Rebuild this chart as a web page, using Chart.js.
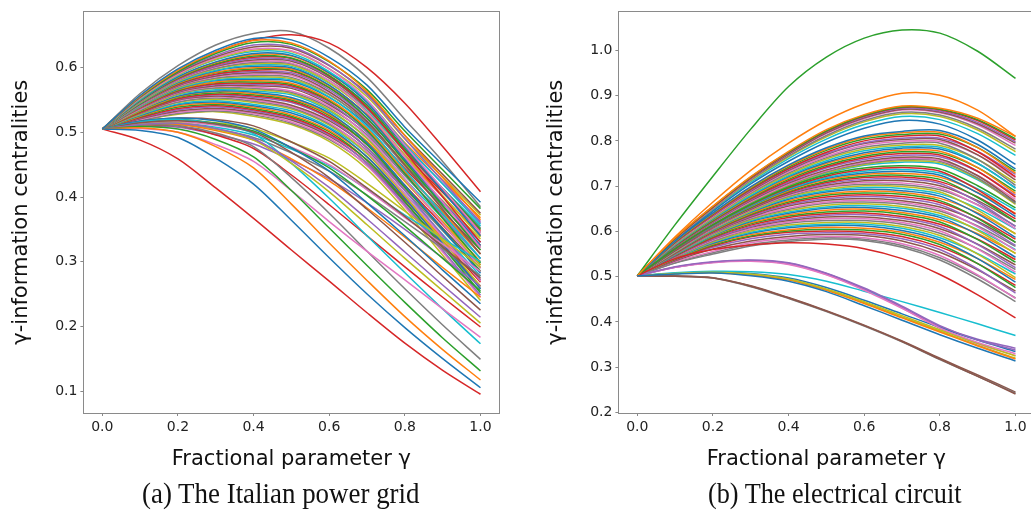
<!DOCTYPE html>
<html><head><meta charset="utf-8">
<script src="https://cdn.jsdelivr.net/npm/chart.js@4.4.1/dist/chart.umd.min.js"></script>
<style>
html,body{margin:0;padding:0;background:#fff;}
#wrap{position:relative;width:1031px;height:511px;overflow:hidden;background:#fff;}
.panel{position:absolute;top:0;width:515px;height:511px;}
.panel canvas{display:block;}
.cap{position:absolute;top:479px;font-family:"Liberation Serif","DejaVu Serif",serif;font-size:29px;line-height:29px;white-space:nowrap;color:#111;transform-origin:0 0;}
</style></head><body>
<div id="wrap">
  <div class="panel" style="left:0px"><canvas id="c1" width="515" height="511"></canvas></div>
  <div class="panel" style="left:535px"><canvas id="c2" width="515" height="511"></canvas></div>
  <div class="cap" style="left:142px;transform:scaleX(0.928)">(a) The Italian power grid</div>
  <div class="cap" style="left:708px;transform:scaleX(0.904)">(b) The electrical circuit</div>
</div>
<script>
// fractional parameter grid
const gamma = [0, 0.1, 0.2, 0.3, 0.4, 0.5, 0.6, 0.7, 0.8, 0.9, 1.0];
const xTickValues = [0, 0.2, 0.4, 0.6, 0.8, 1.0];
const italyYTicks = [0.1, 0.2, 0.3, 0.4, 0.5, 0.6];
const circuitYTicks = [0.2, 0.3, 0.4, 0.5, 0.6, 0.7, 0.8, 0.9, 1.0];
const xTitle = 'Fractional parameter γ';
const yTitle = 'γ-information centralities';

// (a) Italian power grid: one row per node, values at the gamma grid
const italySeries = [
  [0.505, 0.557, 0.598, 0.627, 0.645, 0.643, 0.616, 0.573, 0.508, 0.450, 0.392],
  [0.505, 0.556, 0.596, 0.624, 0.642, 0.638, 0.610, 0.563, 0.495, 0.430, 0.365],
  [0.505, 0.555, 0.594, 0.622, 0.639, 0.636, 0.609, 0.566, 0.502, 0.442, 0.382],
  [0.505, 0.555, 0.594, 0.624, 0.643, 0.651, 0.638, 0.600, 0.545, 0.478, 0.408],
  [0.505, 0.554, 0.593, 0.619, 0.635, 0.632, 0.604, 0.558, 0.490, 0.425, 0.360],
  [0.505, 0.554, 0.592, 0.617, 0.632, 0.630, 0.603, 0.560, 0.495, 0.435, 0.375],
  [0.505, 0.553, 0.590, 0.615, 0.629, 0.626, 0.598, 0.550, 0.480, 0.413, 0.345],
  [0.505, 0.560, 0.603, 0.635, 0.653, 0.656, 0.630, 0.585, 0.520, 0.455, 0.385],
  [0.505, 0.552, 0.589, 0.613, 0.627, 0.625, 0.598, 0.555, 0.490, 0.431, 0.372],
  [0.505, 0.551, 0.588, 0.612, 0.625, 0.622, 0.594, 0.549, 0.482, 0.420, 0.358],
  [0.505, 0.503, 0.492, 0.460, 0.420, 0.364, 0.306, 0.250, 0.198, 0.150, 0.105],
  [0.505, 0.507, 0.500, 0.478, 0.445, 0.389, 0.329, 0.271, 0.215, 0.164, 0.117],
  [0.505, 0.509, 0.505, 0.489, 0.462, 0.410, 0.352, 0.294, 0.237, 0.182, 0.131],
  [0.505, 0.488, 0.459, 0.414, 0.367, 0.318, 0.270, 0.221, 0.174, 0.132, 0.095],
  [0.505, 0.512, 0.514, 0.506, 0.490, 0.456, 0.415, 0.366, 0.315, 0.264, 0.214],
  [0.505, 0.515, 0.518, 0.513, 0.500, 0.469, 0.430, 0.381, 0.330, 0.277, 0.225],
  [0.505, 0.506, 0.500, 0.481, 0.455, 0.410, 0.362, 0.316, 0.272, 0.227, 0.183],
  [0.505, 0.511, 0.510, 0.499, 0.478, 0.430, 0.375, 0.316, 0.258, 0.202, 0.149],
  [0.505, 0.513, 0.515, 0.505, 0.488, 0.452, 0.408, 0.357, 0.305, 0.255, 0.205],
  [0.505, 0.516, 0.520, 0.513, 0.498, 0.452, 0.398, 0.340, 0.283, 0.227, 0.173],
  [0.505, 0.517, 0.522, 0.518, 0.505, 0.476, 0.440, 0.391, 0.340, 0.287, 0.235],
  [0.505, 0.511, 0.512, 0.503, 0.488, 0.459, 0.425, 0.383, 0.338, 0.291, 0.245],
  [0.505, 0.516, 0.520, 0.514, 0.502, 0.476, 0.445, 0.402, 0.355, 0.305, 0.255],
  [0.505, 0.510, 0.510, 0.496, 0.475, 0.434, 0.388, 0.340, 0.292, 0.245, 0.199],
  [0.505, 0.509, 0.508, 0.497, 0.482, 0.457, 0.428, 0.391, 0.350, 0.306, 0.262],
  [0.505, 0.517, 0.522, 0.520, 0.510, 0.485, 0.455, 0.414, 0.370, 0.323, 0.275],
  [0.505, 0.513, 0.516, 0.511, 0.500, 0.477, 0.450, 0.411, 0.368, 0.327, 0.285],
  [0.505, 0.511, 0.512, 0.505, 0.492, 0.468, 0.440, 0.403, 0.362, 0.320, 0.278],
  [0.505, 0.515, 0.518, 0.515, 0.506, 0.485, 0.460, 0.421, 0.378, 0.335, 0.292],
  [0.505, 0.512, 0.514, 0.508, 0.496, 0.474, 0.448, 0.412, 0.372, 0.336, 0.300],
  [0.505, 0.550, 0.586, 0.609, 0.622, 0.619, 0.592, 0.546, 0.478, 0.409, 0.340],
  [0.505, 0.550, 0.585, 0.608, 0.620, 0.618, 0.591, 0.548, 0.484, 0.426, 0.368],
  [0.505, 0.549, 0.584, 0.606, 0.618, 0.615, 0.588, 0.542, 0.475, 0.413, 0.350],
  [0.505, 0.549, 0.583, 0.605, 0.616, 0.614, 0.587, 0.539, 0.470, 0.400, 0.330],
  [0.505, 0.548, 0.582, 0.603, 0.614, 0.612, 0.586, 0.543, 0.480, 0.421, 0.362],
  [0.505, 0.548, 0.582, 0.602, 0.612, 0.610, 0.584, 0.538, 0.472, 0.409, 0.345],
  [0.505, 0.548, 0.581, 0.601, 0.610, 0.607, 0.580, 0.531, 0.462, 0.392, 0.322],
  [0.505, 0.547, 0.580, 0.599, 0.608, 0.606, 0.580, 0.536, 0.472, 0.412, 0.352],
  [0.505, 0.546, 0.579, 0.598, 0.606, 0.604, 0.577, 0.531, 0.465, 0.402, 0.338],
  [0.505, 0.546, 0.578, 0.596, 0.604, 0.602, 0.576, 0.533, 0.470, 0.413, 0.355],
  [0.505, 0.545, 0.577, 0.595, 0.602, 0.600, 0.573, 0.526, 0.458, 0.392, 0.325],
  [0.505, 0.545, 0.576, 0.593, 0.600, 0.598, 0.572, 0.527, 0.462, 0.401, 0.340],
  [0.505, 0.544, 0.575, 0.592, 0.598, 0.596, 0.569, 0.522, 0.455, 0.387, 0.318],
  [0.505, 0.544, 0.574, 0.590, 0.596, 0.595, 0.569, 0.527, 0.465, 0.407, 0.348],
  [0.505, 0.543, 0.573, 0.589, 0.594, 0.592, 0.566, 0.521, 0.456, 0.393, 0.330],
  [0.505, 0.543, 0.572, 0.587, 0.592, 0.590, 0.563, 0.517, 0.450, 0.381, 0.312],
  [0.505, 0.542, 0.571, 0.586, 0.590, 0.588, 0.562, 0.520, 0.458, 0.400, 0.342],
  [0.505, 0.541, 0.570, 0.584, 0.588, 0.585, 0.559, 0.514, 0.448, 0.385, 0.322],
  [0.505, 0.541, 0.569, 0.583, 0.586, 0.583, 0.558, 0.515, 0.452, 0.394, 0.335],
  [0.505, 0.540, 0.568, 0.581, 0.584, 0.581, 0.555, 0.509, 0.442, 0.374, 0.305],
  [0.505, 0.540, 0.567, 0.580, 0.582, 0.579, 0.554, 0.512, 0.450, 0.390, 0.330],
  [0.505, 0.539, 0.566, 0.578, 0.580, 0.576, 0.551, 0.506, 0.440, 0.376, 0.312],
  [0.505, 0.539, 0.565, 0.577, 0.578, 0.574, 0.549, 0.503, 0.436, 0.367, 0.298],
  [0.505, 0.538, 0.564, 0.575, 0.576, 0.572, 0.548, 0.506, 0.444, 0.385, 0.325],
  [0.505, 0.537, 0.563, 0.574, 0.574, 0.570, 0.545, 0.500, 0.435, 0.370, 0.305],
  [0.505, 0.537, 0.562, 0.572, 0.572, 0.568, 0.543, 0.501, 0.438, 0.378, 0.318],
  [0.505, 0.536, 0.561, 0.571, 0.570, 0.564, 0.540, 0.494, 0.428, 0.359, 0.290],
  [0.505, 0.536, 0.560, 0.569, 0.568, 0.562, 0.538, 0.496, 0.433, 0.373, 0.312],
  [0.505, 0.535, 0.559, 0.568, 0.566, 0.560, 0.535, 0.490, 0.425, 0.360, 0.295],
  [0.505, 0.535, 0.558, 0.566, 0.564, 0.558, 0.533, 0.491, 0.428, 0.367, 0.305],
  [0.505, 0.534, 0.556, 0.564, 0.562, 0.554, 0.530, 0.484, 0.418, 0.350, 0.282],
  [0.505, 0.533, 0.555, 0.563, 0.560, 0.552, 0.528, 0.486, 0.424, 0.362, 0.300],
  [0.505, 0.532, 0.554, 0.561, 0.558, 0.550, 0.526, 0.481, 0.415, 0.350, 0.285],
  [0.505, 0.531, 0.552, 0.559, 0.556, 0.548, 0.523, 0.481, 0.418, 0.357, 0.295],
  [0.505, 0.531, 0.551, 0.558, 0.554, 0.546, 0.521, 0.476, 0.410, 0.341, 0.272],
  [0.505, 0.530, 0.550, 0.556, 0.552, 0.542, 0.518, 0.476, 0.414, 0.352, 0.290],
  [0.505, 0.530, 0.549, 0.555, 0.550, 0.540, 0.515, 0.470, 0.405, 0.338, 0.270],
  [0.505, 0.529, 0.547, 0.553, 0.548, 0.538, 0.513, 0.472, 0.410, 0.348, 0.285],
  [0.505, 0.528, 0.546, 0.551, 0.546, 0.536, 0.511, 0.467, 0.402, 0.332, 0.262],
  [0.505, 0.527, 0.544, 0.549, 0.543, 0.533, 0.508, 0.467, 0.405, 0.342, 0.278],
  [0.505, 0.526, 0.543, 0.547, 0.541, 0.530, 0.506, 0.462, 0.398, 0.328, 0.258],
  [0.505, 0.525, 0.541, 0.545, 0.539, 0.527, 0.503, 0.462, 0.400, 0.336, 0.272],
  [0.505, 0.524, 0.539, 0.543, 0.537, 0.525, 0.501, 0.457, 0.393, 0.323, 0.252],
  [0.505, 0.523, 0.537, 0.541, 0.535, 0.523, 0.498, 0.457, 0.396, 0.332, 0.268],
  [0.505, 0.522, 0.535, 0.539, 0.533, 0.521, 0.496, 0.452, 0.388, 0.318, 0.248],
  [0.505, 0.521, 0.533, 0.537, 0.531, 0.519, 0.494, 0.453, 0.392, 0.327, 0.262],
  [0.505, 0.520, 0.531, 0.535, 0.529, 0.516, 0.491, 0.448, 0.385, 0.315, 0.245],
  [0.505, 0.518, 0.529, 0.533, 0.527, 0.514, 0.489, 0.449, 0.388, 0.323, 0.258],
  [0.505, 0.518, 0.528, 0.532, 0.525, 0.512, 0.486, 0.443, 0.380, 0.310, 0.240]
];

// (b) electrical circuit
const circuitSeries = [
  [0.502, 0.506, 0.508, 0.502, 0.490, 0.467, 0.436, 0.404, 0.372, 0.342, 0.314],
  [0.502, 0.588, 0.665, 0.735, 0.795, 0.845, 0.882, 0.905, 0.901, 0.868, 0.810],
  [0.502, 0.615, 0.722, 0.826, 0.920, 0.985, 1.027, 1.045, 1.038, 0.998, 0.938],
  [0.502, 0.540, 0.560, 0.570, 0.575, 0.572, 0.562, 0.540, 0.505, 0.460, 0.409],
  [0.502, 0.522, 0.533, 0.537, 0.531, 0.508, 0.475, 0.435, 0.392, 0.360, 0.338],
  [0.502, 0.501, 0.497, 0.479, 0.453, 0.424, 0.392, 0.357, 0.318, 0.280, 0.241],
  [0.502, 0.521, 0.531, 0.534, 0.527, 0.504, 0.470, 0.430, 0.387, 0.355, 0.330],
  [0.502, 0.501, 0.497, 0.478, 0.452, 0.423, 0.391, 0.356, 0.317, 0.280, 0.243],
  [0.502, 0.507, 0.510, 0.506, 0.495, 0.473, 0.445, 0.414, 0.383, 0.353, 0.325],
  [0.502, 0.509, 0.512, 0.511, 0.505, 0.490, 0.468, 0.445, 0.421, 0.396, 0.370],
  [0.502, 0.507, 0.511, 0.507, 0.497, 0.476, 0.448, 0.418, 0.388, 0.360, 0.335],
  [0.502, 0.507, 0.509, 0.504, 0.493, 0.470, 0.441, 0.409, 0.378, 0.347, 0.318],
  [0.502, 0.562, 0.615, 0.660, 0.698, 0.725, 0.740, 0.745, 0.738, 0.701, 0.652],
  [0.502, 0.561, 0.614, 0.659, 0.696, 0.722, 0.736, 0.741, 0.733, 0.692, 0.638],
  [0.502, 0.521, 0.532, 0.536, 0.530, 0.507, 0.473, 0.433, 0.390, 0.362, 0.342],
  [0.502, 0.502, 0.498, 0.480, 0.454, 0.425, 0.393, 0.358, 0.320, 0.283, 0.245],
  [0.502, 0.521, 0.532, 0.535, 0.528, 0.505, 0.472, 0.431, 0.386, 0.352, 0.326],
  [0.502, 0.530, 0.550, 0.568, 0.578, 0.583, 0.580, 0.565, 0.537, 0.495, 0.445],
  [0.502, 0.507, 0.510, 0.505, 0.494, 0.471, 0.443, 0.411, 0.380, 0.349, 0.320],
  [0.502, 0.561, 0.613, 0.657, 0.694, 0.719, 0.733, 0.737, 0.729, 0.694, 0.647],
  [0.502, 0.579, 0.645, 0.705, 0.755, 0.797, 0.828, 0.845, 0.837, 0.802, 0.748],
  [0.502, 0.586, 0.656, 0.721, 0.777, 0.825, 0.858, 0.877, 0.872, 0.850, 0.810],
  [0.502, 0.585, 0.655, 0.720, 0.775, 0.822, 0.856, 0.875, 0.870, 0.847, 0.805],
  [0.502, 0.584, 0.654, 0.719, 0.774, 0.821, 0.855, 0.874, 0.869, 0.845, 0.802],
  [0.502, 0.585, 0.655, 0.719, 0.773, 0.820, 0.853, 0.872, 0.866, 0.841, 0.798],
  [0.502, 0.584, 0.653, 0.717, 0.771, 0.818, 0.851, 0.870, 0.864, 0.838, 0.795],
  [0.502, 0.583, 0.652, 0.716, 0.770, 0.816, 0.849, 0.868, 0.862, 0.835, 0.790],
  [0.502, 0.582, 0.651, 0.714, 0.767, 0.812, 0.845, 0.863, 0.857, 0.828, 0.782],
  [0.502, 0.581, 0.650, 0.712, 0.765, 0.809, 0.842, 0.860, 0.854, 0.824, 0.776],
  [0.502, 0.580, 0.648, 0.709, 0.761, 0.804, 0.836, 0.854, 0.847, 0.816, 0.768],
  [0.502, 0.579, 0.641, 0.699, 0.747, 0.785, 0.811, 0.821, 0.823, 0.792, 0.738],
  [0.502, 0.578, 0.640, 0.697, 0.745, 0.782, 0.808, 0.818, 0.819, 0.785, 0.729],
  [0.502, 0.577, 0.639, 0.695, 0.742, 0.779, 0.804, 0.814, 0.815, 0.785, 0.733],
  [0.502, 0.576, 0.637, 0.693, 0.739, 0.775, 0.800, 0.810, 0.811, 0.776, 0.721],
  [0.502, 0.575, 0.636, 0.691, 0.737, 0.772, 0.796, 0.806, 0.806, 0.777, 0.726],
  [0.502, 0.575, 0.635, 0.689, 0.735, 0.770, 0.794, 0.803, 0.803, 0.769, 0.714],
  [0.502, 0.574, 0.633, 0.687, 0.732, 0.766, 0.790, 0.799, 0.799, 0.769, 0.719],
  [0.502, 0.573, 0.632, 0.685, 0.729, 0.763, 0.786, 0.795, 0.795, 0.759, 0.702],
  [0.502, 0.572, 0.630, 0.683, 0.726, 0.760, 0.782, 0.791, 0.790, 0.759, 0.708],
  [0.502, 0.571, 0.629, 0.680, 0.723, 0.756, 0.778, 0.787, 0.786, 0.751, 0.695],
  [0.502, 0.570, 0.627, 0.678, 0.721, 0.753, 0.774, 0.784, 0.782, 0.750, 0.697],
  [0.502, 0.570, 0.626, 0.676, 0.718, 0.750, 0.770, 0.780, 0.777, 0.741, 0.684],
  [0.502, 0.569, 0.624, 0.674, 0.715, 0.746, 0.766, 0.776, 0.773, 0.741, 0.689],
  [0.502, 0.568, 0.623, 0.672, 0.712, 0.743, 0.763, 0.772, 0.769, 0.733, 0.676],
  [0.502, 0.567, 0.621, 0.670, 0.709, 0.740, 0.759, 0.768, 0.765, 0.732, 0.680],
  [0.502, 0.566, 0.620, 0.668, 0.707, 0.736, 0.755, 0.764, 0.760, 0.723, 0.666],
  [0.502, 0.565, 0.619, 0.666, 0.704, 0.734, 0.752, 0.761, 0.757, 0.724, 0.671],
  [0.502, 0.565, 0.618, 0.665, 0.703, 0.732, 0.750, 0.759, 0.755, 0.718, 0.662],
  [0.502, 0.564, 0.617, 0.664, 0.701, 0.730, 0.748, 0.756, 0.752, 0.716, 0.660],
  [0.502, 0.564, 0.616, 0.663, 0.700, 0.728, 0.746, 0.753, 0.749, 0.714, 0.664],
  [0.502, 0.560, 0.612, 0.656, 0.692, 0.717, 0.729, 0.733, 0.724, 0.685, 0.633],
  [0.502, 0.560, 0.611, 0.655, 0.690, 0.714, 0.726, 0.728, 0.720, 0.686, 0.640],
  [0.502, 0.559, 0.611, 0.653, 0.688, 0.711, 0.722, 0.724, 0.715, 0.675, 0.622],
  [0.502, 0.558, 0.610, 0.652, 0.686, 0.708, 0.719, 0.720, 0.710, 0.676, 0.628],
  [0.502, 0.558, 0.609, 0.651, 0.684, 0.705, 0.715, 0.716, 0.706, 0.665, 0.611],
  [0.502, 0.557, 0.608, 0.649, 0.682, 0.702, 0.712, 0.712, 0.701, 0.668, 0.621],
  [0.502, 0.556, 0.607, 0.648, 0.680, 0.699, 0.708, 0.707, 0.696, 0.658, 0.606],
  [0.502, 0.556, 0.606, 0.647, 0.678, 0.697, 0.704, 0.703, 0.692, 0.659, 0.612],
  [0.502, 0.555, 0.605, 0.645, 0.676, 0.693, 0.701, 0.699, 0.687, 0.647, 0.594],
  [0.502, 0.555, 0.604, 0.644, 0.674, 0.690, 0.697, 0.695, 0.683, 0.651, 0.605],
  [0.502, 0.554, 0.603, 0.642, 0.671, 0.687, 0.693, 0.690, 0.678, 0.639, 0.587],
  [0.502, 0.554, 0.602, 0.640, 0.668, 0.683, 0.689, 0.686, 0.673, 0.641, 0.595],
  [0.502, 0.553, 0.601, 0.638, 0.665, 0.680, 0.685, 0.682, 0.668, 0.629, 0.576],
  [0.502, 0.552, 0.599, 0.636, 0.662, 0.676, 0.681, 0.677, 0.664, 0.630, 0.583],
  [0.502, 0.552, 0.598, 0.634, 0.659, 0.672, 0.677, 0.673, 0.659, 0.620, 0.569],
  [0.502, 0.551, 0.597, 0.632, 0.656, 0.669, 0.673, 0.668, 0.654, 0.622, 0.576],
  [0.502, 0.551, 0.596, 0.630, 0.652, 0.665, 0.669, 0.664, 0.649, 0.610, 0.558],
  [0.502, 0.550, 0.595, 0.628, 0.649, 0.662, 0.665, 0.660, 0.645, 0.612, 0.567],
  [0.502, 0.550, 0.593, 0.626, 0.646, 0.658, 0.661, 0.655, 0.640, 0.602, 0.551],
  [0.502, 0.549, 0.592, 0.624, 0.643, 0.654, 0.657, 0.651, 0.635, 0.604, 0.560],
  [0.502, 0.548, 0.591, 0.622, 0.640, 0.651, 0.653, 0.646, 0.631, 0.593, 0.543],
  [0.502, 0.548, 0.590, 0.619, 0.637, 0.647, 0.649, 0.642, 0.626, 0.595, 0.552],
  [0.502, 0.547, 0.588, 0.617, 0.634, 0.643, 0.645, 0.638, 0.621, 0.582, 0.532],
  [0.502, 0.546, 0.586, 0.614, 0.631, 0.639, 0.641, 0.633, 0.616, 0.583, 0.538],
  [0.502, 0.545, 0.584, 0.611, 0.627, 0.636, 0.637, 0.629, 0.611, 0.571, 0.520],
  [0.502, 0.545, 0.583, 0.609, 0.624, 0.632, 0.632, 0.624, 0.606, 0.572, 0.526],
  [0.502, 0.544, 0.581, 0.606, 0.621, 0.628, 0.628, 0.620, 0.601, 0.561, 0.510],
  [0.502, 0.543, 0.579, 0.604, 0.618, 0.624, 0.624, 0.616, 0.596, 0.562, 0.516],
  [0.502, 0.542, 0.577, 0.601, 0.614, 0.620, 0.620, 0.611, 0.591, 0.550, 0.498],
  [0.502, 0.541, 0.576, 0.598, 0.611, 0.616, 0.616, 0.607, 0.586, 0.551, 0.506],
  [0.502, 0.541, 0.574, 0.596, 0.608, 0.613, 0.612, 0.602, 0.581, 0.540, 0.488],
  [0.502, 0.540, 0.572, 0.593, 0.604, 0.609, 0.607, 0.598, 0.576, 0.540, 0.494],
  [0.502, 0.539, 0.570, 0.590, 0.601, 0.605, 0.603, 0.594, 0.571, 0.529, 0.476],
  [0.502, 0.538, 0.568, 0.588, 0.598, 0.601, 0.599, 0.589, 0.566, 0.529, 0.481],
  [0.502, 0.537, 0.565, 0.584, 0.594, 0.597, 0.595, 0.584, 0.560, 0.517, 0.464],
  [0.502, 0.535, 0.561, 0.579, 0.589, 0.593, 0.591, 0.579, 0.554, 0.515, 0.468],
  [0.502, 0.533, 0.556, 0.575, 0.585, 0.589, 0.586, 0.573, 0.547, 0.504, 0.452],
  [0.502, 0.531, 0.553, 0.571, 0.581, 0.586, 0.583, 0.569, 0.542, 0.502, 0.453]
];

const tab10 = ['#1f77b4','#ff7f0e','#2ca02c','#d62728','#9467bd','#8c564b','#e377c2','#7f7f7f','#bcbd22','#17becf'];

const framePlugin = {
  id: 'frame',
  afterDatasetsDraw(chart) {
    const {ctx, chartArea: a} = chart;
    ctx.save();
    ctx.strokeStyle = '#8a8a8a';
    ctx.lineWidth = 1;
    ctx.strokeRect(Math.round(a.left) + 0.5, Math.round(a.top) + 0.5,
                   Math.round(a.right - a.left), Math.round(a.bottom - a.top));
    ctx.restore();
  }
};

function makeChart(id, series, yMin, yMax, yTicks) {
  const datasets = series.map((vals, i) => ({
    data: vals.map((v, j) => ({x: gamma[j], y: v})),
    borderColor: tab10[i % 10],
    borderWidth: 1.5,
    pointRadius: 0,
    tension: 0.3,
    fill: false
  }));
  const tickFont = {family: 'DejaVu Sans', size: 14};
  const titleFont = {family: 'DejaVu Sans', size: 21};
  const gridOpts = {display: true, drawOnChartArea: false, drawTicks: true, tickLength: 3, color: '#888', lineWidth: 1};
  return new Chart(document.getElementById(id), {
    type: 'line',
    data: {datasets},
    options: {
      responsive: false,
      animation: false,
      devicePixelRatio: 1,
      layout: {padding: {left: 0, right: 15.6, top: 9, bottom: 0}},
      plugins: {legend: {display: false}, tooltip: {enabled: false}},
      scales: {
        x: {
          type: 'linear', min: -0.05, max: 1.05,
          afterBuildTicks: s => { s.ticks = xTickValues.map(v => ({value: v})); },
          afterFit: s => { s.height = 98; },
          ticks: {callback: v => Number(v).toFixed(1), font: tickFont, color: '#222', padding: 3, maxRotation: 0, autoSkip: false},
          grid: gridOpts,
          border: {display: false},
          title: {display: true, text: xTitle, font: titleFont, color: '#111', padding: {top: 0, bottom: 38.9}}
        },
        y: {
          type: 'linear', min: yMin, max: yMax,
          afterBuildTicks: s => { s.ticks = yTicks.map(v => ({value: v})); },
          afterFit: s => { s.width = 83.4; },
          ticks: {callback: v => Number(v).toFixed(1), font: tickFont, color: '#222', padding: 3, autoSkip: false},
          grid: gridOpts,
          border: {display: false},
          title: {display: true, text: yTitle, font: titleFont, color: '#111', padding: {top: 9.4, bottom: 0}}
        }
      }
    },
    plugins: [framePlugin]
  });
}

makeChart('c1', italySeries, 0.066, 0.687, italyYTicks);
makeChart('c2', circuitSeries, 0.199, 1.086, circuitYTicks);
</script>
</body></html>
